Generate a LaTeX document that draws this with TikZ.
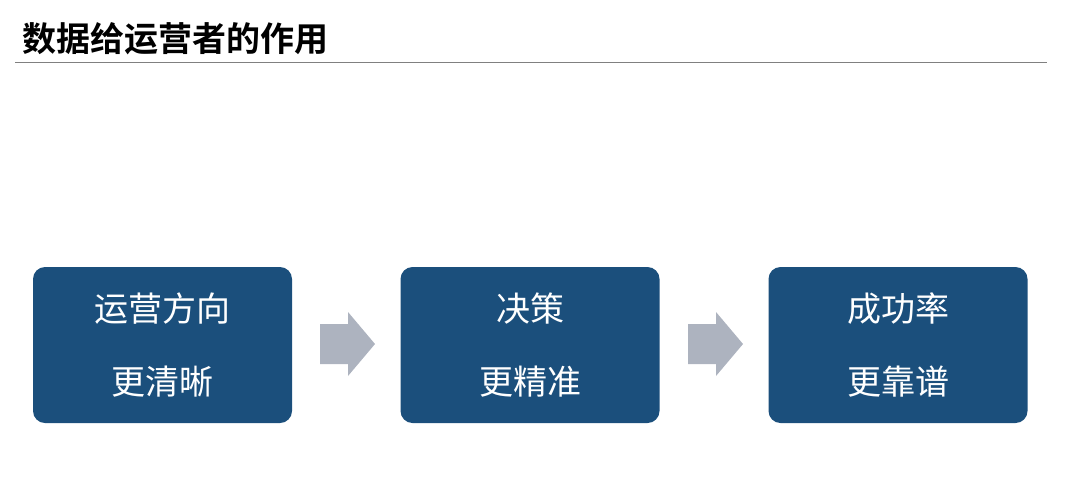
\documentclass[tikz,border=0pt]{standalone}
\usepackage{fontspec}
\newfontfamily\cjk{Noto Sans CJK SC}
\newfontfamily\cjkbold{Noto Sans CJK SC Bold}
\usetikzlibrary{positioning}

\definecolor{boxblue}{HTML}{1B4F7C}
\definecolor{arrgray}{HTML}{ADB3BF}
\definecolor{rulegray}{HTML}{808080}

\begin{document}
\begin{tikzpicture}[
    x=1pt, y=-1pt,
    title/.style={anchor=west, inner sep=0pt,
                  font=\cjkbold\fontsize{34}{40}\selectfont},
    card/.style={fill=boxblue, rounded corners=12pt,
                 minimum width=259pt, minimum height=156pt,
                 text=white, align=center, inner sep=0pt,
                 font=\cjk\fontsize{34}{73}\selectfont},
    blockarr/.style={fill=arrgray, draw=none}
]
\useasboundingbox (0,0) rectangle (1065,483);

% Titre
\node[title] (ttl) at (22, 39) {数据给运营者的作用};
\coordinate (rl) at (15, 62);
\coordinate (rr) at (1047, 62);
\draw[rulegray, line width=1pt] (rl) -- (rr);

% Cartes
\node[card] (c1) at (162.5, 345) {运营方向\\更清晰};
\node[card] (c2) at (530, 345) {决策\\更精准};
\node[card] (c3) at (898, 345) {成功率\\更靠谱};

% Flèches
\fill[blockarr] (320,324) -- (348,324) -- (348,312) -- (375,344)
    -- (348,376) -- (348,364) -- (320,364) -- cycle;
\fill[blockarr] (688,324) -- (716,324) -- (716,312) -- (743,344)
    -- (716,376) -- (716,364) -- (688,364) -- cycle;
\end{tikzpicture}
\end{document}
